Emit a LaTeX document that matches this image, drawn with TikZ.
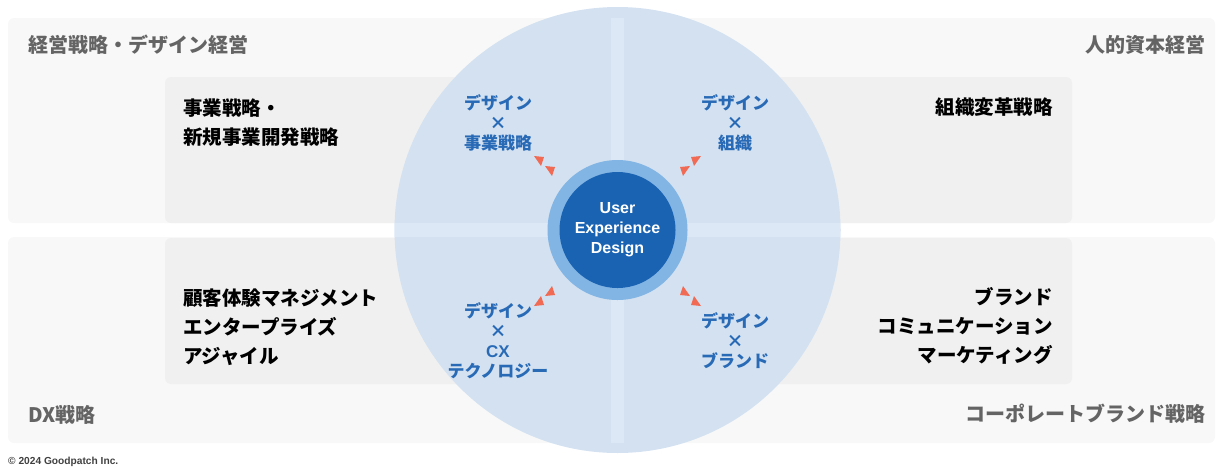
\documentclass[tikz,border=0pt]{standalone}
\usepackage{fontspec}
\setmainfont{Noto Sans CJK JP}
\newfontfamily\latinsans{Liberation Sans}
\definecolor{outerbg}{RGB}{248,248,248}
\definecolor{innerbg}{RGB}{240,240,240}
\definecolor{bigcirc}{RGB}{211,225,241}
\definecolor{band}{RGB}{220,232,246}
\definecolor{ringblue}{RGB}{130,180,228}
\definecolor{coreblue}{RGB}{26,99,178}
\definecolor{labelblue}{RGB}{40,106,182}
\definecolor{titlegray}{RGB}{100,100,100}
\definecolor{markred}{RGB}{240,106,84}
\begin{document}
\begin{tikzpicture}[
  x=1pt, y=-1pt,
  every node/.style={inner sep=0pt, font=\bfseries},
  title/.style={text=titlegray, font=\bfseries\fontsize{20}{24}\selectfont},
  item/.style={text=black, font=\bfseries\fontsize{19.5}{29}\selectfont},
  combo/.style={text=labelblue, align=center, font=\bfseries\fontsize{17}{20}\selectfont},
  panel/.style={rounded corners=6pt}
]
\useasboundingbox (0,0) rectangle (1222,469);
% quadrants
\fill[outerbg, panel] (8,18) rectangle (611,223);
\fill[outerbg, panel] (624,18) rectangle (1215,223);
\fill[outerbg, panel] (8,237) rectangle (611,443);
\fill[outerbg, panel] (624,237) rectangle (1215,443);
\fill[innerbg, panel] (165,77) rectangle (611,223);
\fill[innerbg, panel] (624,77) rectangle (1072,223);
\fill[innerbg, panel] (165,238) rectangle (611,384);
\fill[innerbg, panel] (624,238) rectangle (1072,384);
% big circle with the cross
\fill[bigcirc] (617.5,230) circle (223);
\begin{scope}
\clip (617.5,230) circle (223);
\fill[band] (611,18) rectangle (624,443);
\fill[band] (8,223) rectangle (1215,237);
\end{scope}
% centre
\fill[ringblue] (617.5,230) circle (70);
\node[circle, fill=coreblue, minimum size=116pt, text=white, align=center,
  font=\latinsans\bfseries\fontsize{16}{20}\selectfont] (uxd) at (617.5,230) {User\\Experience\\Design};
% quadrant titles
\node[title, anchor=west] (mgmt) at (28,45) {経営戦略・デザイン経営};
\node[title, anchor=east] (hr) at (1206,45) {人的資本経営};
\node[title, anchor=west] (dx) at (28,415) {DX戦略};
\node[title, anchor=east] (corp) at (1206,414) {コーポレートブランド戦略};
% items
\node[item, anchor=west, align=left] (biz) at (183,123) {事業戦略・\\新規事業開発戦略};
\node[item, anchor=east] (org) at (1053,107) {組織変革戦略};
\node[item, anchor=west, align=left] (cx) at (183,327) {顧客体験マネジメント\\エンタープライズ\\アジャイル};
\node[item, anchor=east, align=right] (brand) at (1053,326) {ブランド\\コミュニケーション\\マーケティング};
% design x ...
\node[combo] (dbiz) at (498,122.5) {デザイン\\×\\事業戦略};
\node[combo] (dorg) at (735,122.5) {デザイン\\×\\組織};
\node[combo] (dcx) at (498,341) {デザイン\\×\\{\latinsans CX}\\テクノロジー};
\node[combo] (dbrand) at (735,341) {デザイン\\×\\ブランド};
% markers
\fill[markred] (534,156) -- (544,157) -- (541,166) -- cycle;
\fill[markred] (545,166) -- (555,167) -- (552,176) -- cycle;
\fill[markred] (701,156) -- (691,157) -- (694,166) -- cycle;
\fill[markred] (690,166) -- (680,167) -- (683,176) -- cycle;
\fill[markred] (545,296) -- (555,295) -- (552,286) -- cycle;
\fill[markred] (534,306) -- (544,305) -- (541,296) -- cycle;
\fill[markred] (690,296) -- (680,295) -- (683,286) -- cycle;
\fill[markred] (701,306) -- (691,305) -- (694,296) -- cycle;
% footer
\node[anchor=west, text=black!75, font=\latinsans\bfseries\fontsize{10.2}{12}\selectfont] (copy) at (8,462) {© 2024 Goodpatch Inc.};
\end{tikzpicture}
\end{document}
